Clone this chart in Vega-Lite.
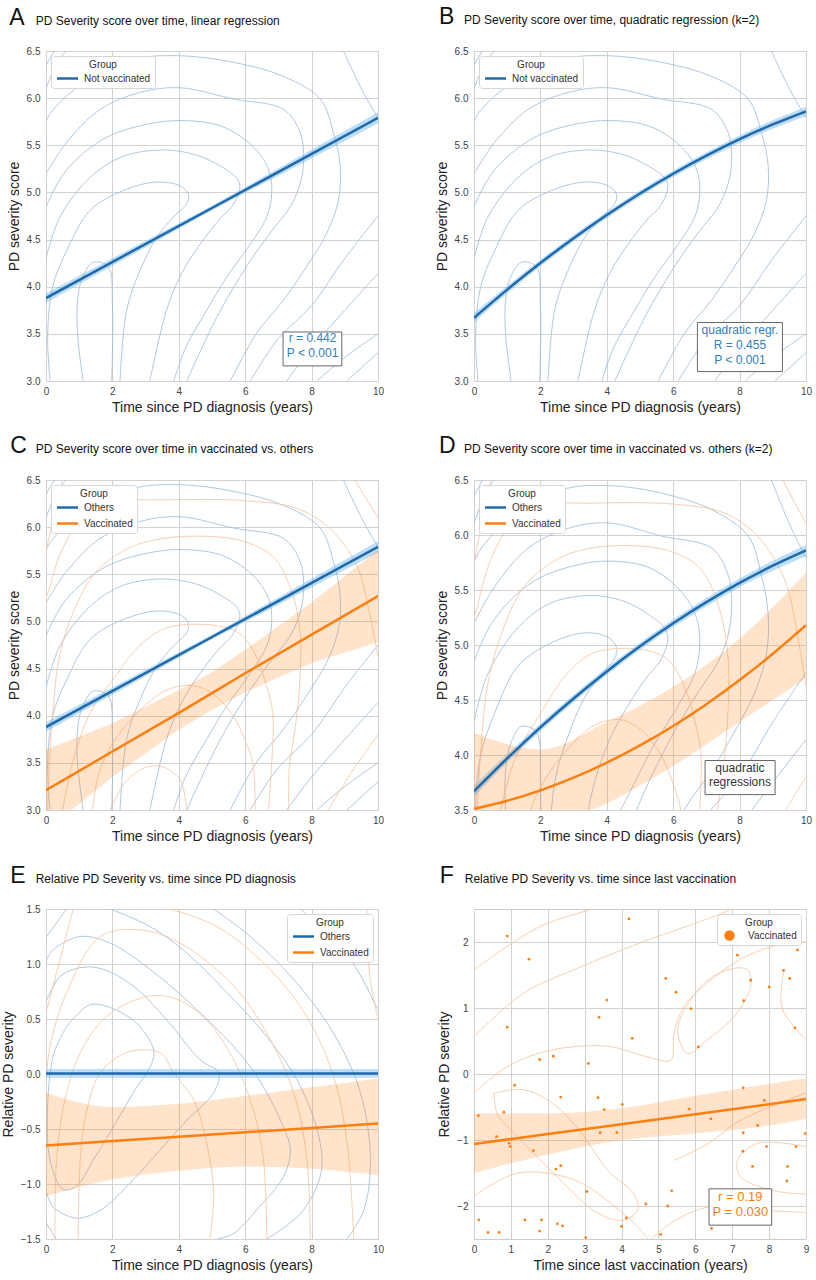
{
  "$schema": "https://vega.github.io/schema/vega-lite/v6.json",
  "background": "white",
  "padding": {"left": 0, "top": 5, "right": 5, "bottom": 5},
  "datasets": {
    "contBlue": [
      {"c":1,"x":1.12,"y":3.0},{"c":1,"x":0.95,"y":3.5},{"c":1,"x":0.95,"y":3.85},{"c":1,"x":1.1,"y":4.1},{"c":1,"x":1.43,"y":4.26},{"c":1,"x":1.88,"y":4.21},{"c":1,"x":2.0,"y":3.82},{"c":1,"x":1.98,"y":3.0},
      {"c":2,"x":0.12,"y":3.0},{"c":2,"x":0.05,"y":3.5},{"c":2,"x":0.2,"y":4.0},{"c":2,"x":0.62,"y":4.38},{"c":2,"x":1.33,"y":4.81},{"c":2,"x":2.33,"y":5.02},{"c":2,"x":3.33,"y":5.11},{"c":2,"x":4.04,"y":5.07},{"c":2,"x":4.29,"y":4.98},{"c":2,"x":4.24,"y":4.88},{"c":2,"x":3.84,"y":4.74},{"c":2,"x":3.33,"y":4.52},{"c":2,"x":2.83,"y":4.17},{"c":2,"x":2.43,"y":3.75},{"c":2,"x":2.23,"y":3.0},
      {"c":3,"x":0.0,"y":4.3},{"c":3,"x":0.42,"y":4.74},{"c":3,"x":1.33,"y":5.16},{"c":3,"x":2.3,"y":5.38},{"c":3,"x":3.5,"y":5.45},{"c":3,"x":4.5,"y":5.4},{"c":3,"x":5.3,"y":5.27},{"c":3,"x":5.75,"y":5.15},{"c":3,"x":5.84,"y":5.05},{"c":3,"x":5.6,"y":4.85},{"c":3,"x":5.24,"y":4.72},{"c":3,"x":4.64,"y":4.45},{"c":3,"x":4.1,"y":4.15},{"c":3,"x":3.63,"y":3.75},{"c":3,"x":3.13,"y":3.0},
      {"c":4,"x":0.0,"y":4.85},{"c":4,"x":0.6,"y":5.23},{"c":4,"x":1.8,"y":5.58},{"c":4,"x":3.3,"y":5.74},{"c":4,"x":4.3,"y":5.76},{"c":4,"x":5.3,"y":5.7},{"c":4,"x":6.2,"y":5.5},{"c":4,"x":6.7,"y":5.25},{"c":4,"x":6.8,"y":5.0},{"c":4,"x":6.65,"y":4.74},{"c":4,"x":6.15,"y":4.45},{"c":4,"x":5.44,"y":4.1},{"c":4,"x":4.84,"y":3.75},{"c":4,"x":4.2,"y":3.35},{"c":4,"x":3.85,"y":3.0},
      {"c":5,"x":0.02,"y":5.21},{"c":5,"x":0.62,"y":5.53},{"c":5,"x":1.63,"y":5.88},{"c":5,"x":2.83,"y":6.06},{"c":5,"x":4.04,"y":6.11},{"c":5,"x":5.65,"y":5.99},{"c":5,"x":7.16,"y":5.88},{"c":5,"x":7.66,"y":5.63},{"c":5,"x":7.76,"y":5.35},{"c":5,"x":7.66,"y":5.1},{"c":5,"x":7.36,"y":4.85},{"c":5,"x":6.75,"y":4.57},{"c":5,"x":6.05,"y":4.22},{"c":5,"x":5.15,"y":3.68},{"c":5,"x":4.24,"y":3.0},
      {"c":6,"x":0.02,"y":5.77},{"c":6,"x":0.22,"y":5.88},{"c":6,"x":1.13,"y":6.16},{"c":6,"x":2.63,"y":6.41},{"c":6,"x":4.0,"y":6.45},{"c":6,"x":5.65,"y":6.38},{"c":6,"x":7.16,"y":6.23},{"c":6,"x":8.26,"y":5.99},{"c":6,"x":8.66,"y":5.63},{"c":6,"x":8.86,"y":5.28},{"c":6,"x":8.81,"y":4.92},{"c":6,"x":8.46,"y":4.57},{"c":6,"x":7.86,"y":4.22},{"c":6,"x":7.16,"y":3.86},{"c":6,"x":6.35,"y":3.51},{"c":6,"x":5.55,"y":3.0},
      {"c":7,"x":8.96,"y":6.5},{"c":7,"x":9.5,"y":6.1},{"c":7,"x":10,"y":5.79},
      {"c":8,"x":6.15,"y":3.0},{"c":8,"x":7.0,"y":3.45},{"c":8,"x":8.0,"y":3.8},{"c":8,"x":9.0,"y":4.3},{"c":8,"x":10,"y":4.75},
      {"c":9,"x":7.25,"y":3.0},{"c":9,"x":8.0,"y":3.35},{"c":9,"x":9.0,"y":3.75},{"c":9,"x":10,"y":4.14},
      {"c":10,"x":8.16,"y":3.0},{"c":10,"x":9.0,"y":3.25},{"c":10,"x":10,"y":3.5},
      {"c":11,"x":9.06,"y":3.0},{"c":11,"x":10,"y":3.3},
      {"c":12,"x":0.0,"y":6.1},{"c":12,"x":0.3,"y":6.35},{"c":12,"x":0.6,"y":6.5},
      {"c":13,"x":0.0,"y":6.35},{"c":13,"x":0.25,"y":6.5}
    ],
    "contOrange": [
      {"c":1,"x":1.93,"y":3.0},{"c":1,"x":2.4,"y":3.3},{"c":1,"x":3.0,"y":3.45},{"c":1,"x":3.5,"y":3.46},{"c":1,"x":4.04,"y":3.32},{"c":1,"x":4.24,"y":3.0},
      {"c":2,"x":1.4,"y":3.0},{"c":2,"x":1.6,"y":3.4},{"c":2,"x":2.01,"y":3.71},{"c":2,"x":2.81,"y":4.05},{"c":2,"x":3.62,"y":4.27},{"c":2,"x":4.42,"y":4.32},{"c":2,"x":5.03,"y":4.23},{"c":2,"x":5.63,"y":4.0},{"c":2,"x":6.03,"y":3.71},{"c":2,"x":6.23,"y":3.5},{"c":2,"x":6.3,"y":3.0},
      {"c":3,"x":0.5,"y":3.0},{"c":3,"x":0.8,"y":3.5},{"c":3,"x":1.31,"y":4.02},{"c":3,"x":2.01,"y":4.38},{"c":3,"x":2.81,"y":4.74},{"c":3,"x":3.62,"y":4.93},{"c":3,"x":5.03,"y":4.96},{"c":3,"x":5.83,"y":4.87},{"c":3,"x":6.33,"y":4.63},{"c":3,"x":6.63,"y":4.33},{"c":3,"x":6.83,"y":4.03},{"c":3,"x":6.8,"y":3.5},{"c":3,"x":6.7,"y":3.0},
      {"c":4,"x":0.05,"y":3.0},{"c":4,"x":0.1,"y":3.5},{"c":4,"x":0.2,"y":4.02},{"c":4,"x":0.4,"y":4.62},{"c":4,"x":0.8,"y":5.08},{"c":4,"x":1.51,"y":5.53},{"c":4,"x":2.51,"y":5.78},{"c":4,"x":3.52,"y":5.88},{"c":4,"x":5.03,"y":5.9},{"c":4,"x":6.03,"y":5.84},{"c":4,"x":6.83,"y":5.69},{"c":4,"x":7.34,"y":5.38},{"c":4,"x":7.64,"y":4.93},{"c":4,"x":7.64,"y":4.33},{"c":4,"x":7.44,"y":3.71},{"c":4,"x":7.34,"y":3.5},{"c":4,"x":7.3,"y":3.0},
      {"c":5,"x":0.0,"y":5.25},{"c":5,"x":0.1,"y":5.35},{"c":5,"x":0.4,"y":5.69},{"c":5,"x":1.0,"y":6.05},{"c":5,"x":2.01,"y":6.26},{"c":5,"x":3.62,"y":6.29},{"c":5,"x":6.03,"y":6.28},{"c":5,"x":7.54,"y":6.2},{"c":5,"x":8.54,"y":5.99},{"c":5,"x":9.35,"y":5.6},{"c":5,"x":9.75,"y":5.08},{"c":5,"x":10,"y":4.62},
      {"c":6,"x":0.0,"y":5.75},{"c":6,"x":0.3,"y":6.2},{"c":6,"x":0.5,"y":6.5},
      {"c":7,"x":8.5,"y":3.0},{"c":7,"x":9.2,"y":3.4},{"c":7,"x":10,"y":3.8},
      {"c":8,"x":9.3,"y":6.5},{"c":8,"x":10,"y":6.1}
    ],
    "contEBlue": [
      {"c":1,"x":0.62,"y":0.43},{"c":1,"x":1.33,"y":0.63},{"c":1,"x":2.13,"y":0.58},{"c":1,"x":2.83,"y":0.43},{"c":1,"x":3.24,"y":0.22},{"c":1,"x":3.19,"y":0.1},{"c":1,"x":2.63,"y":-0.17},{"c":1,"x":2.03,"y":-0.48},{"c":1,"x":1.43,"y":-0.78},{"c":1,"x":0.92,"y":-1.02},{"c":1,"x":0.52,"y":-1.05},{"c":1,"x":0.12,"y":-0.78},{"c":1,"x":0.07,"y":-0.17},{"c":1,"x":0.25,"y":0.2},{"c":1,"x":0.62,"y":0.43},
      {"c":2,"x":0.02,"y":0.67},{"c":2,"x":0.4,"y":0.88},{"c":2,"x":0.92,"y":0.96},{"c":2,"x":1.63,"y":0.96},{"c":2,"x":2.63,"y":0.8},{"c":2,"x":3.64,"y":0.49},{"c":2,"x":4.64,"y":0.13},{"c":2,"x":5.2,"y":0.01},{"c":2,"x":5.05,"y":-0.17},{"c":2,"x":4.24,"y":-0.42},{"c":2,"x":3.44,"y":-0.69},{"c":2,"x":2.63,"y":-0.96},{"c":2,"x":1.63,"y":-1.24},{"c":2,"x":0.92,"y":-1.31},{"c":2,"x":0.22,"y":-1.21},{"c":2,"x":0.02,"y":-1.08},
      {"c":3,"x":0.02,"y":1.04},{"c":3,"x":0.22,"y":1.13},{"c":3,"x":1.03,"y":1.25},{"c":3,"x":1.93,"y":1.19},{"c":3,"x":3.14,"y":0.95},{"c":3,"x":4.24,"y":0.67},{"c":3,"x":5.65,"y":0.25},{"c":3,"x":6.35,"y":-0.02},{"c":3,"x":7.06,"y":-0.42},{"c":3,"x":7.36,"y":-0.69},{"c":3,"x":7.16,"y":-0.93},{"c":3,"x":6.45,"y":-1.2},{"c":3,"x":5.65,"y":-1.45},{"c":3,"x":5.15,"y":-1.5},
      {"c":4,"x":1.93,"y":1.5},{"c":4,"x":3.14,"y":1.34},{"c":4,"x":4.24,"y":1.1},{"c":4,"x":5.45,"y":0.74},{"c":4,"x":6.65,"y":0.34},{"c":4,"x":7.66,"y":-0.11},{"c":4,"x":8.26,"y":-0.63},{"c":4,"x":8.26,"y":-0.93},{"c":4,"x":7.66,"y":-1.27},{"c":4,"x":6.65,"y":-1.5},
      {"c":5,"x":5.05,"y":1.5},{"c":5,"x":6.15,"y":1.25},{"c":5,"x":7.46,"y":0.86},{"c":5,"x":8.66,"y":0.37},{"c":5,"x":9.47,"y":-0.17},{"c":5,"x":9.77,"y":-0.78},{"c":5,"x":9.57,"y":-1.24},{"c":5,"x":9.07,"y":-1.5},
      {"c":6,"x":7.66,"y":1.5},{"c":6,"x":9.17,"y":1.04},{"c":6,"x":10,"y":0.58},
      {"c":7,"x":0.02,"y":1.25},{"c":7,"x":0.62,"y":1.5},
      {"c":8,"x":0.0,"y":-1.35},{"c":8,"x":0.3,"y":-1.5}
    ],
    "contEOrange": [
      {"c":1,"x":0.97,"y":-1.5},{"c":1,"x":1.03,"y":-0.78},{"c":1,"x":1.23,"y":-0.33},{"c":1,"x":1.63,"y":0.01},{"c":1,"x":2.3,"y":0.18},{"c":1,"x":2.93,"y":0.22},{"c":1,"x":3.5,"y":0.18},{"c":1,"x":3.84,"y":0.01},{"c":1,"x":4.44,"y":-0.23},{"c":1,"x":4.84,"y":-0.63},{"c":1,"x":5.05,"y":-1.08},{"c":1,"x":4.94,"y":-1.5},
      {"c":2,"x":0.27,"y":-1.5},{"c":2,"x":0.32,"y":-0.78},{"c":2,"x":0.62,"y":-0.17},{"c":2,"x":1.13,"y":0.25},{"c":2,"x":1.93,"y":0.55},{"c":2,"x":3.14,"y":0.71},{"c":2,"x":3.94,"y":0.68},{"c":2,"x":4.84,"y":0.49},{"c":2,"x":5.65,"y":0.13},{"c":2,"x":6.25,"y":-0.33},{"c":2,"x":6.55,"y":-0.78},{"c":2,"x":6.65,"y":-1.5},
      {"c":3,"x":0.02,"y":-0.02},{"c":3,"x":0.12,"y":0.25},{"c":3,"x":0.62,"y":0.74},{"c":3,"x":1.63,"y":1.25},{"c":3,"x":2.83,"y":1.31},{"c":3,"x":4.04,"y":1.19},{"c":3,"x":5.65,"y":0.8},{"c":3,"x":6.65,"y":0.37},{"c":3,"x":7.46,"y":-0.17},{"c":3,"x":7.86,"y":-0.78},{"c":3,"x":7.96,"y":-1.5},
      {"c":4,"x":3.74,"y":1.5},{"c":4,"x":5.15,"y":1.34},{"c":4,"x":6.65,"y":0.98},{"c":4,"x":7.86,"y":0.52},{"c":4,"x":8.66,"y":-0.02},{"c":4,"x":9.07,"y":-0.63},{"c":4,"x":9.27,"y":-1.5},
      {"c":5,"x":0.02,"y":0.58},{"c":5,"x":0.82,"y":1.5},
      {"c":6,"x":9.67,"y":1.5},{"c":6,"x":9.75,"y":0.9},{"c":6,"x":10,"y":0.5}
    ],
    "contF": [
      {"c":1,"x":5.61,"y":0.87},{"c":1,"x":6.15,"y":1.33},{"c":1,"x":6.87,"y":1.58},{"c":1,"x":7.41,"y":1.58},{"c":1,"x":7.5,"y":1.33},{"c":1,"x":7.05,"y":0.87},{"c":1,"x":6.33,"y":0.52},{"c":1,"x":5.79,"y":0.31},{"c":1,"x":5.52,"y":0.62},{"c":1,"x":5.61,"y":0.87},
      {"c":2,"x":9.0,"y":-1.1},{"c":2,"x":7.69,"y":-1.05},{"c":2,"x":7.14,"y":-1.31},{"c":2,"x":7.23,"y":-1.56},{"c":2,"x":8.14,"y":-1.77},{"c":2,"x":9.0,"y":-1.82},
      {"c":3,"x":0.54,"y":-0.29},{"c":3,"x":1.36,"y":-0.24},{"c":3,"x":2.26,"y":-0.5},{"c":3,"x":2.98,"y":-0.95},{"c":3,"x":3.62,"y":-1.46},{"c":3,"x":4.34,"y":-1.82},{"c":3,"x":4.43,"y":-2.07},{"c":3,"x":3.98,"y":-2.22},{"c":3,"x":3.25,"y":-2.07},{"c":3,"x":2.53,"y":-1.71},{"c":3,"x":1.81,"y":-1.31},{"c":3,"x":1.18,"y":-0.95},{"c":3,"x":0.63,"y":-0.6},{"c":3,"x":0.54,"y":-0.29},
      {"c":4,"x":0.0,"y":1.58},{"c":4,"x":1.81,"y":2.24},{"c":4,"x":3.25,"y":2.5},
      {"c":5,"x":0.0,"y":0.57},{"c":5,"x":1.36,"y":1.23},{"c":5,"x":2.71,"y":1.58},{"c":5,"x":4.52,"y":1.99},{"c":5,"x":6.33,"y":2.35},{"c":5,"x":7.0,"y":2.5},
      {"c":6,"x":0.0,"y":-0.29},{"c":6,"x":0.9,"y":0.11},{"c":6,"x":2.08,"y":0.36},{"c":6,"x":3.62,"y":0.42},{"c":6,"x":4.7,"y":0.26},{"c":6,"x":5.34,"y":0.21},{"c":6,"x":5.42,"y":0.62},{"c":6,"x":5.7,"y":1.03},{"c":6,"x":6.33,"y":1.38},{"c":6,"x":7.23,"y":1.74},{"c":6,"x":8.14,"y":1.94},{"c":6,"x":9.0,"y":2.0},
      {"c":7,"x":0.0,"y":-1.85},{"c":7,"x":1.2,"y":-1.5},{"c":7,"x":2.7,"y":-1.6},{"c":7,"x":3.8,"y":-2.0},{"c":7,"x":4.5,"y":-2.35},{"c":7,"x":4.7,"y":-2.5},
      {"c":8,"x":8.4,"y":1.58},{"c":8,"x":8.35,"y":1.0},{"c":8,"x":9.0,"y":0.52},
      {"c":9,"x":4.8,"y":-2.5},{"c":9,"x":5.5,"y":-2.2},{"c":9,"x":6.5,"y":-2.0},{"c":9,"x":7.5,"y":-2.05},{"c":9,"x":9.0,"y":-2.1},
      {"c":10,"x":5.42,"y":-1.31},{"c":10,"x":6.33,"y":-1.06},{"c":10,"x":7.23,"y":-0.7},{"c":10,"x":9.0,"y":-0.29}
    ],
    "ptsF": [
      {"x":4.2,"y":2.35},{"x":0.9,"y":2.09},{"x":1.49,"y":1.74},{"x":7.14,"y":1.8},{"x":8.77,"y":1.88},{"x":5.2,"y":1.45},{"x":8.39,"y":1.57},{"x":8.56,"y":1.45},{"x":7.5,"y":1.42},{"x":8.0,"y":1.32},
      {"x":5.48,"y":1.24},{"x":3.6,"y":1.12},{"x":7.31,"y":1.11},{"x":5.88,"y":0.99},{"x":3.39,"y":0.86},{"x":0.9,"y":0.71},{"x":8.7,"y":0.7},{"x":4.29,"y":0.54},{"x":6.08,"y":0.41},{"x":1.78,"y":0.22},
      {"x":2.15,"y":0.27},{"x":3.1,"y":0.16},{"x":1.1,"y":-0.17},{"x":7.3,"y":-0.21},{"x":2.35,"y":-0.35},{"x":3.36,"y":-0.36},{"x":7.87,"y":-0.4},{"x":4.02,"y":-0.46},{"x":3.53,"y":-0.54},{"x":5.83,"y":-0.53},
      {"x":0.81,"y":-0.58},{"x":0.12,"y":-0.63},{"x":6.42,"y":-0.68},{"x":7.69,"y":-0.78},{"x":3.42,"y":-0.89},{"x":3.87,"y":-0.89},{"x":7.3,"y":-0.89},{"x":8.98,"y":-0.9},{"x":0.61,"y":-0.95},{"x":0.95,"y":-1.05},
      {"x":0.98,"y":-1.1},{"x":7.93,"y":-1.1},{"x":8.73,"y":-1.1},{"x":1.61,"y":-1.16},{"x":7.29,"y":-1.17},{"x":7.55,"y":-1.4},{"x":8.5,"y":-1.4},{"x":2.35,"y":-1.39},{"x":2.22,"y":-1.44},{"x":8.48,"y":-1.62},
      {"x":5.36,"y":-1.77},{"x":3.06,"y":-1.78},{"x":4.66,"y":-1.97},{"x":5.25,"y":-2.0},{"x":0.13,"y":-2.21},{"x":1.38,"y":-2.21},{"x":1.83,"y":-2.21},{"x":4.13,"y":-2.18},{"x":2.26,"y":-2.27},{"x":2.4,"y":-2.3},
      {"x":4.0,"y":-2.31},{"x":1.78,"y":-2.38},{"x":0.38,"y":-2.4},{"x":0.68,"y":-2.4},{"x":6.44,"y":-2.34},{"x":5.06,"y":-2.43},{"x":3.03,"y":-2.48}
    ],
    "linBlue": [
      {"x":0,"y":3.88,"lo":3.83,"hi":3.93},{"x":5,"y":4.835,"lo":4.81,"hi":4.86},{"x":10,"y":5.79,"lo":5.73,"hi":5.85}
    ],
    "quadBlue": [
      {"x":0,"y":3.67,"lo":3.62,"hi":3.72},{"x":1,"y":3.969,"lo":3.93,"hi":4.01},{"x":2,"y":4.251,"lo":4.215,"hi":4.287},{"x":3,"y":4.514,"lo":4.48,"hi":4.548},{"x":4,"y":4.76,"lo":4.727,"hi":4.793},{"x":5,"y":4.988,"lo":4.955,"hi":5.021},
      {"x":6,"y":5.198,"lo":5.163,"hi":5.233},{"x":7,"y":5.39,"lo":5.353,"hi":5.427},{"x":8,"y":5.565,"lo":5.525,"hi":5.605},{"x":9,"y":5.721,"lo":5.676,"hi":5.766},{"x":10,"y":5.86,"lo":5.81,"hi":5.91}
    ],
    "linOrange": [
      {"x":0,"y":3.21,"lo":2.78,"hi":3.64},{"x":2,"y":3.62,"lo":3.35,"hi":3.92},{"x":4,"y":4.03,"lo":3.85,"hi":4.27},{"x":5,"y":4.24,"lo":4.06,"hi":4.46},{"x":6,"y":4.45,"lo":4.25,"hi":4.7},{"x":8,"y":4.86,"lo":4.56,"hi":5.2},{"x":10,"y":5.27,"lo":4.78,"hi":5.76}
    ],
    "quadOrange": [
      {"x":0,"y":3.51},{"x":1,"y":3.584},{"x":2,"y":3.679},{"x":3,"y":3.794},{"x":4,"y":3.93},{"x":5,"y":4.087},{"x":6,"y":4.264},{"x":7,"y":4.462},{"x":8,"y":4.681},{"x":9,"y":4.92},{"x":10,"y":5.18}
    ],
    "bandOrangeD": [
      {"x":0,"lo":2.82,"hi":4.2},{"x":2,"lo":3.31,"hi":4.05},{"x":4,"lo":3.56,"hi":4.3},{"x":6,"lo":3.9,"hi":4.62},{"x":8,"lo":4.3,"hi":5.06},{"x":10,"lo":4.7,"hi":5.66}
    ],
    "linEBlue": [
      {"x":0,"y":0.005,"lo":-0.035,"hi":0.045},{"x":10,"y":0.005,"lo":-0.035,"hi":0.045}
    ],
    "linEOrange": [
      {"x":0,"y":-0.65,"lo":-1.11,"hi":-0.17},{"x":2,"y":-0.61,"lo":-0.96,"hi":-0.3},{"x":4,"y":-0.57,"lo":-0.88,"hi":-0.27},{"x":6,"y":-0.53,"lo":-0.84,"hi":-0.2},{"x":8,"y":-0.49,"lo":-0.86,"hi":-0.12},{"x":10,"y":-0.45,"lo":-0.92,"hi":-0.04}
    ],
    "linF": [
      {"x":0,"y":-1.06,"lo":-1.5,"hi":-0.6},{"x":2,"y":-0.91,"lo":-1.22,"hi":-0.6},{"x":4,"y":-0.76,"lo":-1.0,"hi":-0.52},{"x":6,"y":-0.61,"lo":-0.9,"hi":-0.33},{"x":8,"y":-0.46,"lo":-0.78,"hi":-0.15},{"x":9,"y":-0.38,"lo":-0.68,"hi":-0.07}
    ]
  },
  "columns": 2,
  "spacing": {"row": 99, "column": 96},
  "bounds": "flush",
  "resolve": {"scale": {"color": "independent"}, "legend": {"color": "independent"}},
  "concat": [
    {
      "width": 332, "height": 330,
      "layer": [
        {
          "data": {"name": "contBlue"},
          "mark": {"type": "line", "interpolate": "catmull-rom", "stroke": "#9dbad8", "strokeWidth": 0.8, "clip": true},
          "encoding": {
            "x": {"field": "x", "type": "quantitative", "scale": {"domain": [0, 10], "nice": false, "zero": false}, "axis": {"title": "Time since PD diagnosis (years)", "values": [0, 2, 4, 6, 8, 10]}},
            "y": {"field": "y", "type": "quantitative", "scale": {"domain": [3, 6.5], "nice": false, "zero": false}, "axis": {"title": "PD severity score", "values": [3, 3.5, 4, 4.5, 5, 5.5, 6, 6.5], "format": ".1f"}},
            "detail": {"field": "c"},
            "order": {"value": null}
          }
        },
        {
          "data": {"name": "linBlue"},
          "mark": {"type": "area", "color": "#6cb6ee", "opacity": 0.45, "clip": true},
          "encoding": {"x": {"field": "x", "type": "quantitative"}, "y": {"field": "lo", "type": "quantitative"}, "y2": {"field": "hi"}}
        },
        {
          "data": {"name": "linBlue"},
          "mark": {"type": "line", "strokeWidth": 2.5, "clip": true},
          "encoding": {
            "x": {"field": "x", "type": "quantitative"}, "y": {"field": "y", "type": "quantitative"},
            "color": {"datum": "Not vaccinated", "type": "nominal", "scale": {"domain": ["Not vaccinated"], "range": ["#1f6aad"]}, "legend": {"title": "Group", "orient": "top-left"}}
          }
        },
        {
          "data": {"values": [{"x": 7.14, "x2": 8.91, "y": 3.52, "y2": 3.16}]},
          "mark": {"type": "rect", "fill": "white", "stroke": "#666666", "strokeWidth": 1},
          "encoding": {"x": {"field": "x", "type": "quantitative"}, "x2": {"field": "x2"}, "y": {"field": "y", "type": "quantitative"}, "y2": {"field": "y2"}}
        },
        {
          "data": {"values": [{"x": 8.03, "y": 3.505, "t": "r = 0.442\nP < 0.001"}]},
          "mark": {"type": "text", "lineBreak": "\n", "fontSize": 12, "lineHeight": 14.5, "color": "#2f7fc0", "align": "center", "baseline": "top"},
          "encoding": {"x": {"field": "x", "type": "quantitative"}, "y": {"field": "y", "type": "quantitative"}, "text": {"field": "t"}}
        },
        {
          "data": {"values": [{"x": -1.105, "y": 6.779, "t": "A", "size": 23}, {"x": -0.31, "y": 6.779, "t": "PD Severity score over time, linear regression", "size": 12}]},
          "mark": {"type": "text", "color": "#111111", "align": "left", "baseline": "alphabetic"},
          "encoding": {"x": {"field": "x", "type": "quantitative"}, "y": {"field": "y", "type": "quantitative"}, "text": {"field": "t"}, "size": {"field": "size", "type": "quantitative", "scale": null}}
        }
      ]
    },
    {
      "width": 332, "height": 330,
      "layer": [
        {
          "data": {"name": "contBlue"},
          "mark": {"type": "line", "interpolate": "catmull-rom", "stroke": "#9dbad8", "strokeWidth": 0.8, "clip": true},
          "encoding": {
            "x": {"field": "x", "type": "quantitative", "scale": {"domain": [0, 10], "nice": false, "zero": false}, "axis": {"title": "Time since PD diagnosis (years)", "values": [0, 2, 4, 6, 8, 10]}},
            "y": {"field": "y", "type": "quantitative", "scale": {"domain": [3, 6.5], "nice": false, "zero": false}, "axis": {"title": "PD severity score", "values": [3, 3.5, 4, 4.5, 5, 5.5, 6, 6.5], "format": ".1f"}},
            "detail": {"field": "c"},
            "order": {"value": null}
          }
        },
        {
          "data": {"name": "quadBlue"},
          "mark": {"type": "area", "color": "#6cb6ee", "opacity": 0.45, "interpolate": "monotone", "clip": true},
          "encoding": {"x": {"field": "x", "type": "quantitative"}, "y": {"field": "lo", "type": "quantitative"}, "y2": {"field": "hi"}}
        },
        {
          "data": {"name": "quadBlue"},
          "mark": {"type": "line", "strokeWidth": 2.5, "interpolate": "monotone", "clip": true},
          "encoding": {
            "x": {"field": "x", "type": "quantitative"}, "y": {"field": "y", "type": "quantitative"},
            "color": {"datum": "Not vaccinated", "type": "nominal", "scale": {"domain": ["Not vaccinated"], "range": ["#1f6aad"]}, "legend": {"title": "Group", "orient": "top-left"}}
          }
        },
        {
          "data": {"values": [{"x": 6.73, "x2": 9.29, "y": 3.62, "y2": 3.1}]},
          "mark": {"type": "rect", "fill": "white", "stroke": "#666666", "strokeWidth": 1},
          "encoding": {"x": {"field": "x", "type": "quantitative"}, "x2": {"field": "x2"}, "y": {"field": "y", "type": "quantitative"}, "y2": {"field": "y2"}}
        },
        {
          "data": {"values": [{"x": 8.01, "y": 3.59, "t": "quadratic regr.\nR = 0.455\nP < 0.001"}]},
          "mark": {"type": "text", "lineBreak": "\n", "fontSize": 12, "lineHeight": 14.7, "color": "#2f7fc0", "align": "center", "baseline": "top"},
          "encoding": {"x": {"field": "x", "type": "quantitative"}, "y": {"field": "y", "type": "quantitative"}, "text": {"field": "t"}}
        },
        {
          "data": {"values": [{"x": -1.054, "y": 6.786, "t": "B", "size": 23}, {"x": -0.3, "y": 6.786, "t": "PD Severity score over time, quadratic regression (k=2)", "size": 12}]},
          "mark": {"type": "text", "color": "#111111", "align": "left", "baseline": "alphabetic"},
          "encoding": {"x": {"field": "x", "type": "quantitative"}, "y": {"field": "y", "type": "quantitative"}, "text": {"field": "t"}, "size": {"field": "size", "type": "quantitative", "scale": null}}
        }
      ]
    },
    {
      "width": 332, "height": 330,
      "layer": [
        {
          "data": {"name": "contBlue"},
          "mark": {"type": "line", "interpolate": "catmull-rom", "stroke": "#9dbad8", "strokeWidth": 0.8, "clip": true},
          "encoding": {
            "x": {"field": "x", "type": "quantitative", "scale": {"domain": [0, 10], "nice": false, "zero": false}, "axis": {"title": "Time since PD diagnosis (years)", "values": [0, 2, 4, 6, 8, 10]}},
            "y": {"field": "y", "type": "quantitative", "scale": {"domain": [3, 6.5], "nice": false, "zero": false}, "axis": {"title": "PD severity score", "values": [3, 3.5, 4, 4.5, 5, 5.5, 6, 6.5], "format": ".1f"}},
            "detail": {"field": "c"},
            "order": {"value": null}
          }
        },
        {
          "data": {"name": "contOrange"},
          "mark": {"type": "line", "interpolate": "catmull-rom", "stroke": "#f6c39c", "strokeWidth": 0.8, "clip": true},
          "encoding": {"x": {"field": "x", "type": "quantitative"}, "y": {"field": "y", "type": "quantitative"}, "detail": {"field": "c"}, "order": {"value": null}}
        },
        {
          "data": {"name": "linBlue"},
          "mark": {"type": "area", "color": "#6cb6ee", "opacity": 0.45, "clip": true},
          "encoding": {"x": {"field": "x", "type": "quantitative"}, "y": {"field": "lo", "type": "quantitative"}, "y2": {"field": "hi"}}
        },
        {
          "data": {"name": "linOrange"},
          "mark": {"type": "area", "color": "#ff7f0e", "opacity": 0.22, "clip": true},
          "encoding": {"x": {"field": "x", "type": "quantitative"}, "y": {"field": "lo", "type": "quantitative"}, "y2": {"field": "hi"}}
        },
        {
          "data": {"name": "linBlue"},
          "mark": {"type": "line", "strokeWidth": 2.5, "clip": true},
          "encoding": {
            "x": {"field": "x", "type": "quantitative"}, "y": {"field": "y", "type": "quantitative"},
            "color": {"datum": "Others", "type": "nominal", "scale": {"domain": ["Others", "Vaccinated"], "range": ["#1f6aad", "#ff7f0e"]}, "legend": {"title": "Group", "orient": "top-left"}}
          }
        },
        {
          "data": {"name": "linOrange"},
          "mark": {"type": "line", "strokeWidth": 2.5, "clip": true},
          "encoding": {"x": {"field": "x", "type": "quantitative"}, "y": {"field": "y", "type": "quantitative"}, "color": {"datum": "Vaccinated", "type": "nominal"}}
        },
        {
          "data": {"values": [{"x": -1.08, "y": 6.784, "t": "C", "size": 23}, {"x": -0.31, "y": 6.784, "t": "PD Severity score over time in vaccinated vs. others", "size": 12}]},
          "mark": {"type": "text", "color": "#111111", "align": "left", "baseline": "alphabetic"},
          "encoding": {"x": {"field": "x", "type": "quantitative"}, "y": {"field": "y", "type": "quantitative"}, "text": {"field": "t"}, "size": {"field": "size", "type": "quantitative", "scale": null}}
        }
      ]
    },
    {
      "width": 332, "height": 330,
      "layer": [
        {
          "data": {"name": "contBlue"},
          "mark": {"type": "line", "interpolate": "catmull-rom", "stroke": "#9dbad8", "strokeWidth": 0.8, "clip": true},
          "encoding": {
            "x": {"field": "x", "type": "quantitative", "scale": {"domain": [0, 10], "nice": false, "zero": false}, "axis": {"title": "Time since PD diagnosis (years)", "values": [0, 2, 4, 6, 8, 10]}},
            "y": {"field": "y", "type": "quantitative", "scale": {"domain": [3.5, 6.5], "nice": false, "zero": false}, "axis": {"title": "PD severity score", "values": [3.5, 4, 4.5, 5, 5.5, 6, 6.5], "format": ".1f"}},
            "detail": {"field": "c"},
            "order": {"value": null}
          }
        },
        {
          "data": {"name": "contOrange"},
          "mark": {"type": "line", "interpolate": "catmull-rom", "stroke": "#f6c39c", "strokeWidth": 0.8, "clip": true},
          "encoding": {"x": {"field": "x", "type": "quantitative"}, "y": {"field": "y", "type": "quantitative"}, "detail": {"field": "c"}, "order": {"value": null}}
        },
        {
          "data": {"name": "quadBlue"},
          "mark": {"type": "area", "color": "#6cb6ee", "opacity": 0.45, "interpolate": "monotone", "clip": true},
          "encoding": {"x": {"field": "x", "type": "quantitative"}, "y": {"field": "lo", "type": "quantitative"}, "y2": {"field": "hi"}}
        },
        {
          "data": {"name": "bandOrangeD"},
          "mark": {"type": "area", "color": "#ff7f0e", "opacity": 0.22, "interpolate": "monotone", "clip": true},
          "encoding": {"x": {"field": "x", "type": "quantitative"}, "y": {"field": "lo", "type": "quantitative"}, "y2": {"field": "hi"}}
        },
        {
          "mark": {"type": "rule", "color": "#b03a48", "strokeWidth": 1.5, "strokeDash": [7, 3, 2, 3]},
          "encoding": {"y": {"datum": 4.5, "type": "quantitative"}}
        },
        {
          "data": {"name": "quadBlue"},
          "mark": {"type": "line", "strokeWidth": 2.5, "interpolate": "monotone", "clip": true},
          "encoding": {
            "x": {"field": "x", "type": "quantitative"}, "y": {"field": "y", "type": "quantitative"},
            "color": {"datum": "Others", "type": "nominal", "scale": {"domain": ["Others", "Vaccinated"], "range": ["#1f6aad", "#ff7f0e"]}, "legend": {"title": "Group", "orient": "top-left"}}
          }
        },
        {
          "data": {"name": "quadOrange"},
          "mark": {"type": "line", "strokeWidth": 2.5, "interpolate": "monotone", "clip": true},
          "encoding": {"x": {"field": "x", "type": "quantitative"}, "y": {"field": "y", "type": "quantitative"}, "color": {"datum": "Vaccinated", "type": "nominal"}}
        },
        {
          "data": {"values": [{"x": 6.96, "x2": 9.07, "y": 3.95, "y2": 3.64}]},
          "mark": {"type": "rect", "fill": "white", "stroke": "#666666", "strokeWidth": 1},
          "encoding": {"x": {"field": "x", "type": "quantitative"}, "x2": {"field": "x2"}, "y": {"field": "y", "type": "quantitative"}, "y2": {"field": "y2"}}
        },
        {
          "data": {"values": [{"x": 8.01, "y": 3.93, "t": "quadratic\nregressions"}]},
          "mark": {"type": "text", "lineBreak": "\n", "fontSize": 12, "lineHeight": 14.3, "color": "#333333", "align": "center", "baseline": "top"},
          "encoding": {"x": {"field": "x", "type": "quantitative"}, "y": {"field": "y", "type": "quantitative"}, "text": {"field": "t"}}
        },
        {
          "data": {"values": [{"x": -1.054, "y": 6.743, "t": "D", "size": 23}, {"x": -0.3, "y": 6.743, "t": "PD Severity score over time in vaccinated vs. others (k=2)", "size": 12}]},
          "mark": {"type": "text", "color": "#111111", "align": "left", "baseline": "alphabetic"},
          "encoding": {"x": {"field": "x", "type": "quantitative"}, "y": {"field": "y", "type": "quantitative"}, "text": {"field": "t"}, "size": {"field": "size", "type": "quantitative", "scale": null}}
        }
      ]
    },
    {
      "width": 332, "height": 330,
      "layer": [
        {
          "data": {"name": "contEBlue"},
          "mark": {"type": "line", "interpolate": "catmull-rom", "stroke": "#9dbad8", "strokeWidth": 0.8, "clip": true},
          "encoding": {
            "x": {"field": "x", "type": "quantitative", "scale": {"domain": [0, 10], "nice": false, "zero": false}, "axis": {"title": "Time since PD diagnosis (years)", "values": [0, 2, 4, 6, 8, 10]}},
            "y": {"field": "y", "type": "quantitative", "scale": {"domain": [-1.5, 1.5], "nice": false, "zero": false}, "axis": {"title": "Relative PD severity", "values": [-1.5, -1, -0.5, 0, 0.5, 1, 1.5], "format": ".1f"}},
            "detail": {"field": "c"},
            "order": {"value": null}
          }
        },
        {
          "data": {"name": "contEOrange"},
          "mark": {"type": "line", "interpolate": "catmull-rom", "stroke": "#f6c39c", "strokeWidth": 0.8, "clip": true},
          "encoding": {"x": {"field": "x", "type": "quantitative"}, "y": {"field": "y", "type": "quantitative"}, "detail": {"field": "c"}, "order": {"value": null}}
        },
        {
          "data": {"name": "linEBlue"},
          "mark": {"type": "area", "color": "#6cb6ee", "opacity": 0.45, "clip": true},
          "encoding": {"x": {"field": "x", "type": "quantitative"}, "y": {"field": "lo", "type": "quantitative"}, "y2": {"field": "hi"}}
        },
        {
          "data": {"name": "linEOrange"},
          "mark": {"type": "area", "color": "#ff7f0e", "opacity": 0.22, "interpolate": "monotone", "clip": true},
          "encoding": {"x": {"field": "x", "type": "quantitative"}, "y": {"field": "lo", "type": "quantitative"}, "y2": {"field": "hi"}}
        },
        {
          "data": {"name": "linEBlue"},
          "mark": {"type": "line", "strokeWidth": 2.5, "clip": true},
          "encoding": {
            "x": {"field": "x", "type": "quantitative"}, "y": {"field": "y", "type": "quantitative"},
            "color": {"datum": "Others", "type": "nominal", "scale": {"domain": ["Others", "Vaccinated"], "range": ["#1f6aad", "#ff7f0e"]}, "legend": {"title": "Group", "orient": "top-right"}}
          }
        },
        {
          "data": {"name": "linEOrange"},
          "mark": {"type": "line", "strokeWidth": 2.5, "clip": true},
          "encoding": {"x": {"field": "x", "type": "quantitative"}, "y": {"field": "y", "type": "quantitative"}, "color": {"datum": "Vaccinated", "type": "nominal"}}
        },
        {
          "data": {"values": [{"x": -1.08, "y": 1.736, "t": "E", "size": 23}, {"x": -0.31, "y": 1.736, "t": "Relative PD Severity vs. time since PD diagnosis", "size": 12}]},
          "mark": {"type": "text", "color": "#111111", "align": "left", "baseline": "alphabetic"},
          "encoding": {"x": {"field": "x", "type": "quantitative"}, "y": {"field": "y", "type": "quantitative"}, "text": {"field": "t"}, "size": {"field": "size", "type": "quantitative", "scale": null}}
        }
      ]
    },
    {
      "width": 332, "height": 330,
      "layer": [
        {
          "data": {"name": "contF"},
          "mark": {"type": "line", "interpolate": "catmull-rom", "stroke": "#f6c39c", "strokeWidth": 0.8, "clip": true},
          "encoding": {
            "x": {"field": "x", "type": "quantitative", "scale": {"domain": [0, 9], "nice": false, "zero": false}, "axis": {"title": "Time since last vaccination (years)", "tickCount": 9, "format": "d"}},
            "y": {"field": "y", "type": "quantitative", "scale": {"domain": [-2.5, 2.5], "nice": false, "zero": false}, "axis": {"title": "Relative PD severity", "values": [-2, -1, 0, 1, 2], "format": "d"}},
            "detail": {"field": "c"},
            "order": {"value": null}
          }
        },
        {
          "data": {"name": "linF"},
          "mark": {"type": "area", "color": "#ff7f0e", "opacity": 0.22, "interpolate": "monotone", "clip": true},
          "encoding": {"x": {"field": "x", "type": "quantitative"}, "y": {"field": "lo", "type": "quantitative"}, "y2": {"field": "hi"}}
        },
        {
          "mark": {"type": "rule", "color": "#2b7bbd", "strokeWidth": 2, "strokeDash": [6, 4]},
          "encoding": {"y": {"datum": 0, "type": "quantitative"}}
        },
        {
          "data": {"name": "ptsF"},
          "mark": {"type": "point", "filled": true, "size": 8, "opacity": 1, "clip": true},
          "encoding": {
            "x": {"field": "x", "type": "quantitative"}, "y": {"field": "y", "type": "quantitative"},
            "color": {"datum": "Vaccinated", "type": "nominal", "scale": {"domain": ["Vaccinated"], "range": ["#ff7f0e"]}, "legend": {"title": "Group", "orient": "top-right", "symbolType": "circle", "symbolSize": 110, "symbolOffset": 2, "labelOffset": 12}}
          }
        },
        {
          "data": {"name": "linF"},
          "mark": {"type": "line", "strokeWidth": 2.5, "color": "#ff7f0e", "clip": true},
          "encoding": {"x": {"field": "x", "type": "quantitative"}, "y": {"field": "y", "type": "quantitative"}}
        },
        {
          "data": {"values": [{"x": 6.37, "x2": 8.07, "y": -1.74, "y2": -2.29}]},
          "mark": {"type": "rect", "fill": "white", "stroke": "#666666", "strokeWidth": 1},
          "encoding": {"x": {"field": "x", "type": "quantitative"}, "x2": {"field": "x2"}, "y": {"field": "y", "type": "quantitative"}, "y2": {"field": "y2"}}
        },
        {
          "data": {"values": [{"x": 7.22, "y": -1.77, "t": "r = 0.19\nP = 0.030"}]},
          "mark": {"type": "text", "lineBreak": "\n", "fontSize": 13, "lineHeight": 15.5, "color": "#ff7f0e", "align": "center", "baseline": "top"},
          "encoding": {"x": {"field": "x", "type": "quantitative"}, "y": {"field": "y", "type": "quantitative"}, "text": {"field": "t"}}
        },
        {
          "data": {"values": [{"x": -0.93, "y": 2.896, "t": "F", "size": 23}, {"x": -0.25, "y": 2.896, "t": "Relative PD Severity vs. time since last vaccination", "size": 12}]},
          "mark": {"type": "text", "color": "#111111", "align": "left", "baseline": "alphabetic"},
          "encoding": {"x": {"field": "x", "type": "quantitative"}, "y": {"field": "y", "type": "quantitative"}, "text": {"field": "t"}, "size": {"field": "size", "type": "quantitative", "scale": null}}
        }
      ]
    }
  ],
  "config": {
    "font": "Liberation Sans",
    "view": {"stroke": "#cccccc", "strokeWidth": 1},
    "axis": {
      "grid": true, "gridColor": "#d2d2d2", "gridWidth": 1, "ticks": false, "domain": false,
      "labelFontSize": 10, "labelColor": "#444444", "labelFlush": false, "labelOverlap": false,
      "titleFontSize": 14, "titleFontWeight": "normal", "titleColor": "#222222"
    },
    "axisX": {"titlePadding": 4, "labelPadding": 5},
    "axisY": {"titlePadding": 5, "labelPadding": 6},
    "legend": {
      "offset": 5, "padding": 4, "strokeColor": "#d6d6d6", "fillColor": "white", "cornerRadius": 3,
      "titleFontSize": 10, "titleFontWeight": "normal", "titleColor": "#333333", "titleAnchor": "middle", "titlePadding": 1,
      "labelFontSize": 10, "labelColor": "#333333", "labelOffset": 9, "symbolStrokeWidth": 2.5,
      "symbolType": "M-1.75,0H1.75", "symbolSize": 144, "symbolOffset": 5, "rowPadding": 3
    }
  }
}
